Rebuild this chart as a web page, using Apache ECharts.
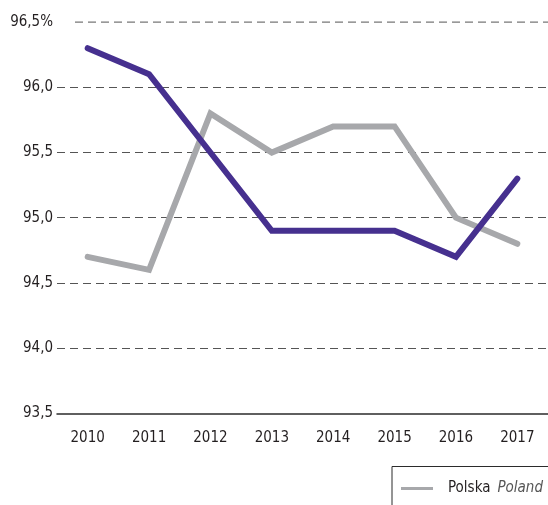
<!DOCTYPE html>
<html>
<head>
<meta charset="utf-8">
<script src="https://cdn.jsdelivr.net/npm/echarts@6/dist/echarts.min.js"></script>
<style>
  html, body { margin: 0; padding: 0; background: #fff; }
  #chart { width: 548px; height: 505px; }
</style>
</head>
<body>
<div id="chart"></div>
<script>
// Years on the horizontal axis
const years = ['2010', '2011', '2012', '2013', '2014', '2015', '2016', '2017'];
// Poland (grey line)
const polska = [94.7, 94.6, 95.8, 95.5, 95.7, 95.7, 95.0, 94.8];
// Region (purple line)
const region = [96.3, 96.1, 95.5, 94.9, 94.9, 94.9, 94.7, 95.3];
// Value-axis tick labels, bottom to top
const yTickLabels = ['93,5', '94,0', '94,5', '95,0', '95,5', '96,0', '96,5%'];
const yMin = 93.5, yMax = 96.5, yStep = 0.5;

const FONT = '"Liberation Sans Narrow", "DejaVu Sans Condensed", sans-serif';
const TEXT = '#231f20';
const FS = 15;

const chart = echarts.init(document.getElementById('chart'), null, { renderer: 'canvas' });

chart.setOption({
  animation: false,
  backgroundColor: '#fff',
  grid: { left: 57, right: -5, top: 22.1, bottom: 91.7, containLabel: false },
  xAxis: {
    type: 'category',
    data: years,
    boundaryGap: true,
    axisLine: { show: true, lineStyle: { color: '#2b2b2b', width: 1.5 } },
    axisTick: { show: false },
    axisLabel: { color: TEXT, fontFamily: FONT, fontSize: FS, margin: 17 },
    splitLine: { show: false }
  },
  yAxis: {
    type: 'value',
    min: yMin,
    max: yMax,
    interval: yStep,
    axisLine: { show: false },
    axisTick: { show: false },
    axisLabel: {
      color: TEXT, fontFamily: FONT, fontSize: FS, margin: 4,
      formatter: v => yTickLabels[Math.round((v - yMin) / yStep)]
    },
    splitLine: {
      show: true,
      showMinLine: false,
      showMaxLine: false,
      lineStyle: { color: '#555', width: 1, type: [8, 5] }
    }
  },
  legend: {
    left: 396,
    top: 476,
    data: ['Polska'],
    icon: 'rect',
    itemWidth: 32,
    itemHeight: 3,
    formatter: name => '{a|' + name + '}{b|Poland}',
    textStyle: {
      rich: {
        a: { fontFamily: FONT, fontSize: FS, color: TEXT, padding: [0, 0, 0, 10] },
        b: { fontFamily: FONT, fontSize: FS, color: '#555', fontStyle: 'italic', padding: [0, 0, 0, 7] }
      }
    }
  },
  series: [
    {
      name: 'Polska',
      type: 'line',
      data: polska,
      symbol: 'none',
      z: 2,
      lineStyle: { color: '#a7a8ab', width: 6, cap: 'round', join: 'miter' },
      itemStyle: { color: '#a7a8ab' }
    },
    {
      name: 'region',
      type: 'line',
      data: region,
      symbol: 'none',
      z: 3,
      lineStyle: { color: '#46308f', width: 6, cap: 'round', join: 'miter' },
      itemStyle: { color: '#46308f' }
    }
  ]
});

// Top dashed rule starts after the wider "%" label; legend frame runs off the page edge.
const topY = chart.convertToPixel({ yAxisIndex: 0 }, yMax);
chart.setOption({
  graphic: [
    {
      type: 'line',
      shape: { x1: 75, y1: topY, x2: 548, y2: topY },
      style: { stroke: '#555', lineWidth: 1, lineDash: [8, 5] },
      silent: true
    },
    {
      type: 'rect',
      shape: { x: 392, y: 466.5, width: 200, height: 100 },
      style: { fill: 'none', stroke: '#2b2b2b', lineWidth: 1 },
      silent: true
    }
  ]
});
</script>
</body>
</html>
